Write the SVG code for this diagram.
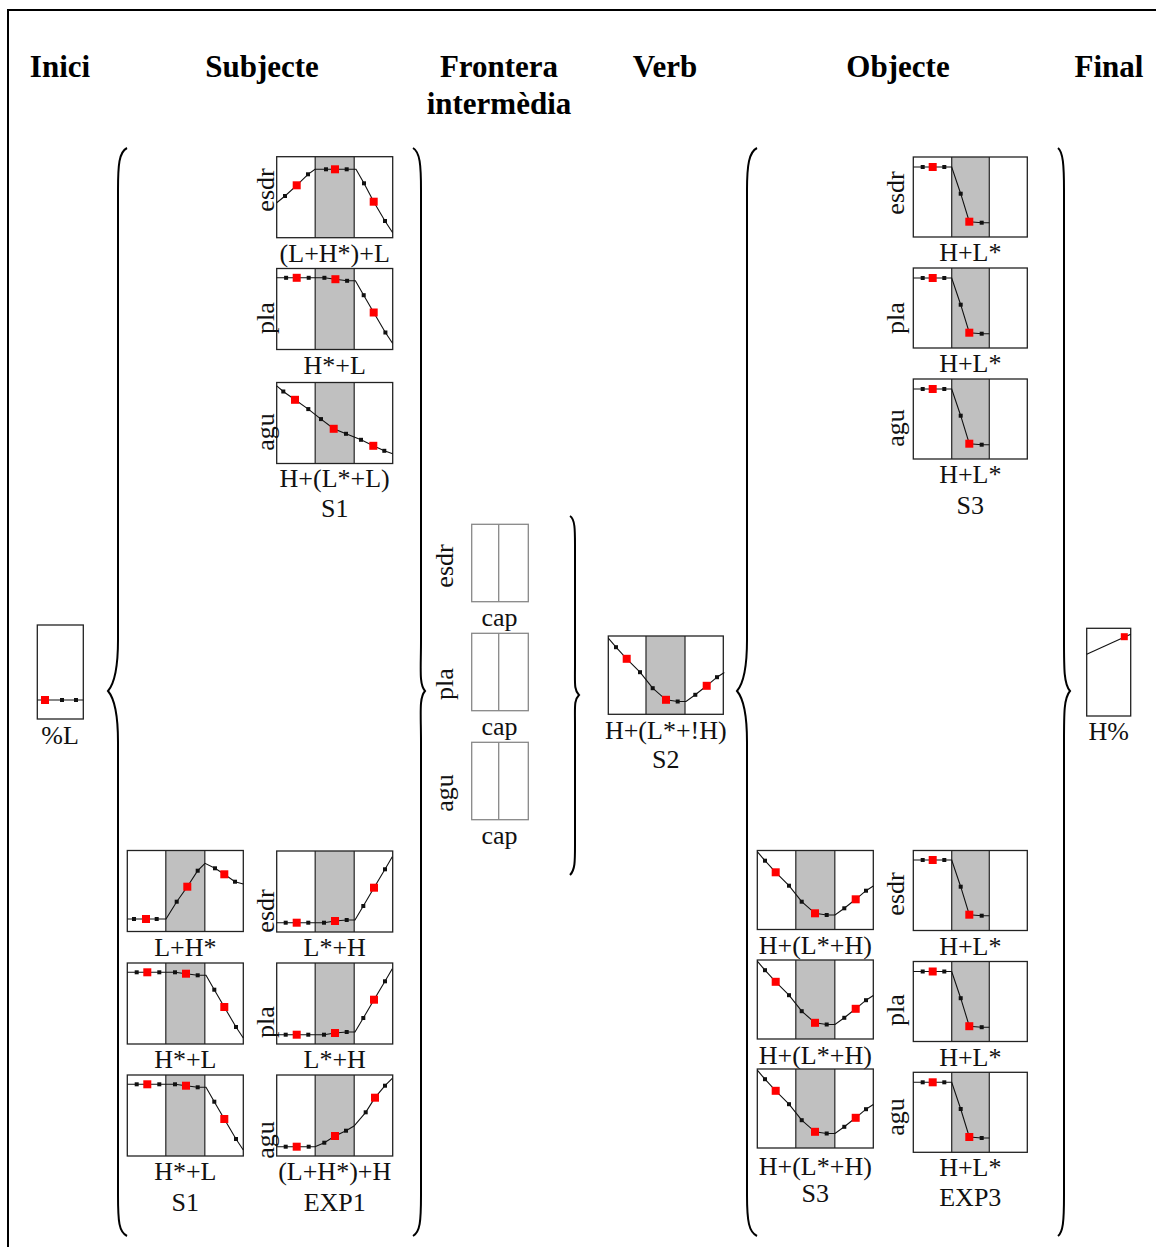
<svg xmlns="http://www.w3.org/2000/svg" xmlns:xlink="http://www.w3.org/1999/xlink" width="1156" height="1247" viewBox="0 0 1156 1247">
<style>
.hd{font-family:"Liberation Serif",serif;font-weight:bold;font-size:31px;text-anchor:middle;fill:#000}
.lb{font-family:"Liberation Serif",serif;font-size:26px;text-anchor:middle;fill:#111}
.fr{fill:none;stroke:#222;stroke-width:1.3}
.ff{fill:none;stroke:#888;stroke-width:1.3}
.gy{fill:#c0c0c0;stroke:none}
.dv{stroke:#333;stroke-width:1.3}
.cv{fill:none;stroke:#111;stroke-width:1.1}
.bd{fill:#111}
.rd{fill:#f00}
.br{fill:none;stroke:#000;stroke-width:2}
</style>
<defs>
<g id="dotb"><rect class="bd" x="-2" y="-2" width="4" height="4"/></g>
<g id="dotr"><rect class="rd" x="-4" y="-4" width="8" height="8"/></g>
<g id="c-LHL">
<polyline class="cv" points="0,46 8.3,39.3 20,28.6 31.3,17.6 38.3,12.6 49.3,12.6 58.3,12.6 70,12.6 79.3,12.6 87.3,26.6 97,45 108.3,64.3 116,76"/>
<use xlink:href="#dotb" x="8.3" y="39.3"/><use xlink:href="#dotb" x="31.3" y="17.6"/><use xlink:href="#dotb" x="49.3" y="12.6"/><use xlink:href="#dotb" x="70" y="12.6"/><use xlink:href="#dotb" x="87.3" y="26.6"/><use xlink:href="#dotb" x="108.3" y="64.3"/>
<use xlink:href="#dotr" x="20" y="28.6"/><use xlink:href="#dotr" x="58.3" y="12.6"/><use xlink:href="#dotr" x="97" y="45"/>
</g>
<g id="c-HL">
<polyline class="cv" points="0,9.3 9.4,9.3 20,9.3 32,9.3 47.7,9.3 58.7,10.7 70.4,12.3 78.7,12.3 87,26.7 97,44 108.7,64 116,75"/>
<use xlink:href="#dotb" x="9.4" y="9.3"/><use xlink:href="#dotb" x="32" y="9.3"/><use xlink:href="#dotb" x="47.7" y="9.3"/><use xlink:href="#dotb" x="70.4" y="12.3"/><use xlink:href="#dotb" x="87" y="26.7"/><use xlink:href="#dotb" x="108.7" y="64"/>
<use xlink:href="#dotr" x="20" y="9.3"/><use xlink:href="#dotr" x="58.7" y="10.7"/><use xlink:href="#dotr" x="97" y="44"/>
</g>
<g id="c-HLL">
<polyline class="cv" points="0,3.3 6.6,9 18.3,17.3 31.6,26.6 44.3,36.6 57,46.3 69.3,51.3 84.3,57.3 96.6,63.3 107.6,68.3 116,71.3"/>
<use xlink:href="#dotb" x="6.6" y="9"/><use xlink:href="#dotb" x="31.6" y="26.6"/><use xlink:href="#dotb" x="44.3" y="36.6"/><use xlink:href="#dotb" x="69.3" y="51.3"/><use xlink:href="#dotb" x="84.3" y="57.3"/><use xlink:href="#dotb" x="107.6" y="68.3"/>
<use xlink:href="#dotr" x="18.3" y="17.3"/><use xlink:href="#dotr" x="57" y="46.3"/><use xlink:href="#dotr" x="96.6" y="63.3"/>
</g>
<g id="c-LH">
<polyline class="cv" points="0,69 6.7,69 18.7,69 29.4,69 38.7,69 49.4,51.7 60,36.7 70.4,20.7 77.7,13.3 87.7,18.3 97,24.3 107.7,31.7 116,34"/>
<use xlink:href="#dotb" x="6.7" y="69"/><use xlink:href="#dotb" x="29.4" y="69"/><use xlink:href="#dotb" x="49.4" y="51.7"/><use xlink:href="#dotb" x="70.4" y="20.7"/><use xlink:href="#dotb" x="87.7" y="18.3"/><use xlink:href="#dotb" x="107.7" y="31.7"/>
<use xlink:href="#dotr" x="18.7" y="69"/><use xlink:href="#dotr" x="60" y="36.7"/><use xlink:href="#dotr" x="97" y="24.3"/>
</g>
<g id="c-LsH">
<polyline class="cv" points="0,71.7 9,71.7 20,71.7 31.6,71.7 47.3,71.7 58.3,70 70,69 78.3,69 86.6,55 97.3,36.7 108.3,18.3 115.6,5.7"/>
<use xlink:href="#dotb" x="9" y="71.7"/><use xlink:href="#dotb" x="31.6" y="71.7"/><use xlink:href="#dotb" x="47.3" y="71.7"/><use xlink:href="#dotb" x="70" y="69"/><use xlink:href="#dotb" x="86.6" y="55"/><use xlink:href="#dotb" x="108.3" y="18.3"/>
<use xlink:href="#dotr" x="20" y="71.7"/><use xlink:href="#dotr" x="58.3" y="70"/><use xlink:href="#dotr" x="97.3" y="36.7"/>
</g>
<g id="c-LHH">
<polyline class="cv" points="0,71.7 9,71.7 20,71.7 32,71.7 38.3,71.7 47.6,67.7 58.3,61 69.3,55.7 77.3,51 89,37.3 98.3,22.7 108.3,10.7 115.6,3.3"/>
<use xlink:href="#dotb" x="9" y="71.7"/><use xlink:href="#dotb" x="32" y="71.7"/><use xlink:href="#dotb" x="47.6" y="67.7"/><use xlink:href="#dotb" x="69.3" y="55.7"/><use xlink:href="#dotb" x="89" y="37.3"/><use xlink:href="#dotb" x="108.3" y="10.7"/>
<use xlink:href="#dotr" x="20" y="71.7"/><use xlink:href="#dotr" x="58.3" y="61"/><use xlink:href="#dotr" x="98.3" y="22.7"/>
</g>
<g id="c-HLs">
<polyline class="cv" points="0,10 9.4,10 19.4,10 31,10 38.4,10 47.4,36.7 56,64.7 68.4,65.7 76,65.7"/>
<use xlink:href="#dotb" x="9.4" y="10"/><use xlink:href="#dotb" x="31" y="10"/><use xlink:href="#dotb" x="47.4" y="36.7"/><use xlink:href="#dotb" x="68.4" y="65.7"/>
<use xlink:href="#dotr" x="19.4" y="10"/><use xlink:href="#dotr" x="56" y="64.7"/>
</g>
<g id="c-HLH">
<polyline class="cv" points="0,1.7 7.7,10.7 18.4,22.3 31.7,35.7 44.4,51.7 57.7,63.3 69.4,65 77.7,65 87,58.3 98.4,49.3 108.7,40.7 116,36"/>
<use xlink:href="#dotb" x="7.7" y="10.7"/><use xlink:href="#dotb" x="31.7" y="35.7"/><use xlink:href="#dotb" x="44.4" y="51.7"/><use xlink:href="#dotb" x="69.4" y="65"/><use xlink:href="#dotb" x="87" y="58.3"/><use xlink:href="#dotb" x="108.7" y="40.7"/>
<use xlink:href="#dotr" x="18.4" y="22.3"/><use xlink:href="#dotr" x="57.7" y="63.3"/><use xlink:href="#dotr" x="98.4" y="49.3"/>
</g>
<g id="f116"><rect class="gy" x="38.5" y="0" width="39" height="81"/><line class="dv" x1="38.5" y1="0" x2="38.5" y2="81"/><line class="dv" x1="77.5" y1="0" x2="77.5" y2="81"/><rect class="fr" x="0" y="0" width="116" height="81"/></g>
<g id="f116b"><rect class="gy" x="38.5" y="0" width="39" height="79"/><line class="dv" x1="38.5" y1="0" x2="38.5" y2="79"/><line class="dv" x1="77.5" y1="0" x2="77.5" y2="79"/><rect class="fr" x="0" y="0" width="116" height="79"/></g>
<g id="f114"><rect class="gy" x="38.4" y="0" width="37.6" height="80"/><line class="dv" x1="38.4" y1="0" x2="38.4" y2="80"/><line class="dv" x1="76" y1="0" x2="76" y2="80"/><rect class="fr" x="0" y="0" width="114" height="80"/></g>
<g id="ffr"><rect class="ff" x="0" y="0" width="56.6" height="77.4"/><line class="ff" x1="27" y1="0" x2="27" y2="77.4"/></g>
</defs>

<g id="border"><path d="M8,1247 V10 H1156" fill="none" stroke="#000" stroke-width="2"/></g>

<g id="headers">
<text class="hd" x="60" y="77">Inici</text>
<text class="hd" x="262" y="77">Subjecte</text>
<text class="hd" x="499" y="77">Frontera</text>
<text class="hd" x="499" y="114">intermèdia</text>
<text class="hd" x="665" y="77">Verb</text>
<text class="hd" x="898" y="77">Objecte</text>
<text class="hd" x="1109" y="77">Final</text>
</g>

<g id="connectors">
<path class="br" d="M127,148 C119,152 118,165 118,190 L118,640 C118,670 114,684 108,691 C114,698 118,712 118,742 L118,1195 C118,1222 119,1232 127,1236"/>
<path class="br" d="M413,148 C420,152 421,165 421,190 L421,640 C421,670 419,684 425,691 C419,698 421,712 421,742 L421,1195 C421,1222 420,1232 413,1236"/>
<path class="br" d="M570,516 C575,519 575,530 575,545 L575,665 C575,684 574,690 579,695 C574,700 575,706 575,725 L575,845 C575,862 575,870 570,875"/>
<path class="br" d="M757,148 C749,152 747,165 747,190 L747,640 C747,670 743,684 737,691 C743,698 747,712 747,742 L747,1195 C747,1222 749,1232 757,1236"/>
<path class="br" d="M1058,148 C1063,152 1064,165 1064,190 L1064,640 C1064,670 1064,684 1070,691 C1064,698 1064,712 1064,742 L1064,1195 C1064,1222 1063,1232 1058,1236"/>
</g>

<g id="inici">
<rect class="fr" x="37.3" y="625" width="46" height="94"/>
<line class="cv" x1="37.3" y1="700" x2="83.3" y2="700"/>
<rect class="rd" x="41" y="696" width="8" height="8"/>
<rect class="bd" x="60" y="698" width="4" height="4"/>
<rect class="bd" x="74" y="698" width="4" height="4"/>
<text class="lb" x="60" y="744">%L</text>
</g>

<g id="subj-esdr-1">
<use xlink:href="#f116" x="276.7" y="156.7"/><use xlink:href="#c-LHL" x="276.7" y="156.7"/>
<text class="lb" x="334.7" y="262">(L+H*)+L</text>
<text class="lb" transform="translate(274,190) rotate(-90)">esdr</text>
</g>
<g id="subj-pla-1">
<use xlink:href="#f116" x="276.7" y="268.5"/><use xlink:href="#c-HL" x="276.7" y="268.5"/>
<text class="lb" x="334.7" y="374">H*+L</text>
<text class="lb" transform="translate(274,318) rotate(-90)">pla</text>
</g>
<g id="subj-agu-1">
<use xlink:href="#f116" x="276.7" y="382.5"/><use xlink:href="#c-HLL" x="276.7" y="382.5"/>
<text class="lb" x="334.7" y="487">H+(L*+L)</text>
<text class="lb" x="334.7" y="517">S1</text>
<text class="lb" transform="translate(274,432) rotate(-90)">agu</text>
</g>

<g id="subj-s1-esdr">
<use xlink:href="#f116" x="127.3" y="850.5"/><use xlink:href="#c-LH" x="127.3" y="850"/>
<text class="lb" x="185.3" y="956">L+H*</text>
</g>
<g id="subj-s1-pla">
<use xlink:href="#f116" x="127.3" y="963"/><use xlink:href="#c-HL" x="127.3" y="963"/>
<text class="lb" x="185.3" y="1068">H*+L</text>
</g>
<g id="subj-s1-agu">
<use xlink:href="#f116" x="127.3" y="1075"/><use xlink:href="#c-HL" x="127.3" y="1075"/>
<text class="lb" x="185.3" y="1180">H*+L</text>
<text class="lb" x="185.3" y="1211">S1</text>
</g>
<g id="subj-exp1-esdr">
<use xlink:href="#f116" x="276.7" y="851"/><use xlink:href="#c-LsH" x="276.7" y="851"/>
<text class="lb" x="334.7" y="956">L*+H</text>
<text class="lb" transform="translate(274,911) rotate(-90)">esdr</text>
</g>
<g id="subj-exp1-pla">
<use xlink:href="#f116" x="276.7" y="963"/><use xlink:href="#c-LsH" x="276.7" y="963"/>
<text class="lb" x="334.7" y="1068">L*+H</text>
<text class="lb" transform="translate(274,1022) rotate(-90)">pla</text>
</g>
<g id="subj-exp1-agu">
<use xlink:href="#f116" x="276.7" y="1075"/><use xlink:href="#c-LHH" x="276.7" y="1075"/>
<text class="lb" x="334.7" y="1180">(L+H*)+H</text>
<text class="lb" x="334.7" y="1211">EXP1</text>
<text class="lb" transform="translate(274,1140) rotate(-90)">agu</text>
</g>

<g id="front-esdr">
<use xlink:href="#ffr" x="471.7" y="524.3"/>
<text class="lb" x="499.5" y="626">cap</text>
<text class="lb" transform="translate(453,566) rotate(-90)">esdr</text>
</g>
<g id="front-pla">
<use xlink:href="#ffr" x="471.7" y="633.3"/>
<text class="lb" x="499.5" y="735">cap</text>
<text class="lb" transform="translate(453,684) rotate(-90)">pla</text>
</g>
<g id="front-agu">
<use xlink:href="#ffr" x="471.7" y="742.3"/>
<text class="lb" x="499.5" y="844">cap</text>
<text class="lb" transform="translate(453,793) rotate(-90)">agu</text>
</g>

<g id="verb">
<rect class="gy" x="646" y="636" width="39" height="78.3"/>
<line class="dv" x1="646" y1="636" x2="646" y2="714.3"/><line class="dv" x1="685" y1="636" x2="685" y2="714.3"/>
<rect class="fr" x="608.3" y="636" width="115" height="78.3"/>
<use xlink:href="#c-HLH" x="608.3" y="636.5"/>
<text class="lb" x="665.8" y="739">H+(L*+!H)</text>
<text class="lb" x="665.8" y="768">S2</text>
</g>

<g id="obj-s3-esdr">
<use xlink:href="#f114" x="913.3" y="157"/><use xlink:href="#c-HLs" x="913.3" y="157"/>
<text class="lb" x="970.3" y="261">H+L*</text>
<text class="lb" transform="translate(904,193) rotate(-90)">esdr</text>
</g>
<g id="obj-s3-pla">
<use xlink:href="#f114" x="913.3" y="268"/><use xlink:href="#c-HLs" x="913.3" y="268"/>
<text class="lb" x="970.3" y="372">H+L*</text>
<text class="lb" transform="translate(904,318) rotate(-90)">pla</text>
</g>
<g id="obj-s3-agu">
<use xlink:href="#f114" x="913.3" y="379"/><use xlink:href="#c-HLs" x="913.3" y="379"/>
<text class="lb" x="970.3" y="483">H+L*</text>
<text class="lb" x="970.3" y="514">S3</text>
<text class="lb" transform="translate(904,428) rotate(-90)">agu</text>
</g>

<g id="obj-s3b-esdr">
<use xlink:href="#f116b" x="757.3" y="850.5"/><use xlink:href="#c-HLH" x="757.3" y="850"/>
<text class="lb" x="815.3" y="954">H+(L*+H)</text>
</g>
<g id="obj-s3b-pla">
<use xlink:href="#f116b" x="757.3" y="960"/><use xlink:href="#c-HLH" x="757.3" y="959.5"/>
<text class="lb" x="815.3" y="1064">H+(L*+H)</text>
</g>
<g id="obj-s3b-agu">
<use xlink:href="#f116b" x="757.3" y="1069"/><use xlink:href="#c-HLH" x="757.3" y="1068.5"/>
<text class="lb" x="815.3" y="1175">H+(L*+H)</text>
<text class="lb" x="815.3" y="1202">S3</text>
</g>
<g id="obj-exp3-esdr">
<use xlink:href="#f114" x="913.3" y="850.5"/><use xlink:href="#c-HLs" x="913.3" y="850"/>
<text class="lb" x="970.3" y="955">H+L*</text>
<text class="lb" transform="translate(904,894) rotate(-90)">esdr</text>
</g>
<g id="obj-exp3-pla">
<use xlink:href="#f114" x="913.3" y="961.5"/><use xlink:href="#c-HLs" x="913.3" y="961.5"/>
<text class="lb" x="970.3" y="1066">H+L*</text>
<text class="lb" transform="translate(904,1010) rotate(-90)">pla</text>
</g>
<g id="obj-exp3-agu">
<use xlink:href="#f114" x="913.3" y="1072.3"/><use xlink:href="#c-HLs" x="913.3" y="1072.3"/>
<text class="lb" x="970.3" y="1176">H+L*</text>
<text class="lb" x="970.3" y="1206">EXP3</text>
<text class="lb" transform="translate(904,1117) rotate(-90)">agu</text>
</g>

<g id="final">
<rect class="fr" x="1086.7" y="628.3" width="44" height="87.7"/>
<line class="cv" x1="1086.7" y1="654.3" x2="1130.7" y2="634.3" stroke-width="1.6"/>
<rect class="rd" x="1120.8" y="633.2" width="7" height="7"/>
<text class="lb" x="1108.7" y="740">H%</text>
</g>
</svg>
